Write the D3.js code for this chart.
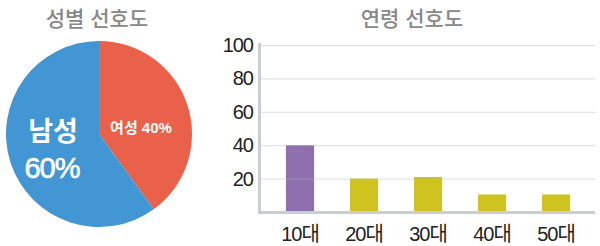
<!DOCTYPE html>
<html>
<head>
<meta charset="utf-8">
<script src="https://cdn.jsdelivr.net/npm/d3@7"></script>
<style>
  html, body { margin: 0; padding: 0; background: #fff; }
  svg { display: block; font-family: "Liberation Sans", "Noto Sans CJK KR", sans-serif; }
</style>
</head>
<body>
<svg id="chart" width="600" height="246"></svg>
<script>
  // ---------- data ----------
  const genderLabels = ['여성', '남성'];
  const genderValues = [40, 60];
  const genderColors = ['#e9614a', '#4296d4'];

  const ageCategories = ['10대', '20대', '30대', '40대', '50대'];
  const ageValues = [40, 20, 21, 10.5, 10.5];
  const ageColors = ['#8f6fae', '#cfc31f', '#cfc31f', '#cfc31f', '#cfc31f'];
  const yTicks = [20, 40, 60, 80, 100];

  const svg = d3.select('#chart');

  // ---------- pie ----------
  const cx = 99, cy = 134, r = 93;
  const pie = d3.pie().sort(null).value(d => d);
  const arc = d3.arc().innerRadius(0).outerRadius(r);
  const gp = svg.append('g').attr('transform', `translate(${cx},${cy})`);
  gp.selectAll('path')
    .data(pie(genderValues))
    .enter().append('path')
    .attr('d', arc)
    .attr('fill', (d, i) => genderColors[i]);

  svg.append('text')
    .attr('x', 97).attr('y', 26)
    .attr('text-anchor', 'middle')
    .attr('font-size', 21)
    .attr('font-weight', 500)
    .attr('fill', '#888')
    .text('성별 선호도');

  // 여성 label
  svg.append('text')
    .attr('x', 141).attr('y', 133)
    .attr('text-anchor', 'middle')
    .attr('font-size', 15)
    .attr('font-weight', 'bold')
    .attr('fill', '#fff')
    .text(`${genderLabels[0]} ${genderValues[0]}%`);

  // 남성 label (two lines)
  svg.append('text')
    .attr('x', 53).attr('y', 141)
    .attr('text-anchor', 'middle')
    .attr('font-size', 27)
    .attr('font-weight', 'bold')
    .attr('fill', '#fff')
    .text(genderLabels[1]);
  svg.append('text')
    .attr('x', 52).attr('y', 178)
    .attr('text-anchor', 'middle')
    .attr('font-size', 29)
    .attr('fill', '#fff')
    .attr('stroke', '#fff')
    .attr('stroke-width', 0.6)
    .attr('letter-spacing', -1)
    .text(`${genderValues[1]}%`);

  // ---------- bars ----------
  const x = d3.scaleBand().domain(ageCategories).range([268, 588]).paddingInner(0.56).paddingOuter(0.28);
  const y = d3.scaleLinear().domain([0, 100]).range([212, 45]);

  svg.append('text')
    .attr('x', 412).attr('y', 26)
    .attr('text-anchor', 'middle')
    .attr('font-size', 21)
    .attr('font-weight', 500)
    .attr('fill', '#888')
    .text('연령 선호도');

  svg.append('g').selectAll('rect')
    .data(ageValues)
    .enter().append('rect')
    .attr('x', (d, i) => x(ageCategories[i]))
    .attr('width', x.bandwidth())
    .attr('y', d => y(d))
    .attr('height', d => y(0) - y(d))
    .attr('fill', (d, i) => ageColors[i]);

  // gridlines over bars
  svg.append('g').selectAll('line')
    .data(yTicks)
    .enter().append('line')
    .attr('x1', 260).attr('x2', 595)
    .attr('y1', d => y(d) + 0.5).attr('y2', d => y(d) + 0.5)
    .attr('stroke', '#a9b6bd')
    .attr('stroke-opacity', 0.45)
    .attr('stroke-width', 1);

  // axis lines
  svg.append('line')
    .attr('x1', 259.5).attr('x2', 259.5).attr('y1', 43).attr('y2', 214)
    .attr('stroke', '#c6ced2').attr('stroke-width', 3);
  svg.append('line')
    .attr('x1', 258).attr('x2', 595).attr('y1', 212.5).attr('y2', 212.5)
    .attr('stroke', '#c6ced2').attr('stroke-width', 3);

  // y tick labels
  svg.append('g').selectAll('text')
    .data(yTicks)
    .enter().append('text')
    .attr('x', 253)
    .attr('y', d => y(d) + 7)
    .attr('text-anchor', 'end')
    .attr('font-size', 20)
    .attr('letter-spacing', -1)
    .attr('fill', '#222')
    .text(d => d);

  // x labels
  svg.append('g').selectAll('text')
    .data(ageCategories)
    .enter().append('text')
    .attr('x', d => x(d) + x.bandwidth() / 2)
    .attr('y', 241)
    .attr('text-anchor', 'middle')
    .attr('font-size', 20)
    .attr('letter-spacing', -1)
    .attr('fill', '#222')
    .text(d => d);
</script>
</body>
</html>
